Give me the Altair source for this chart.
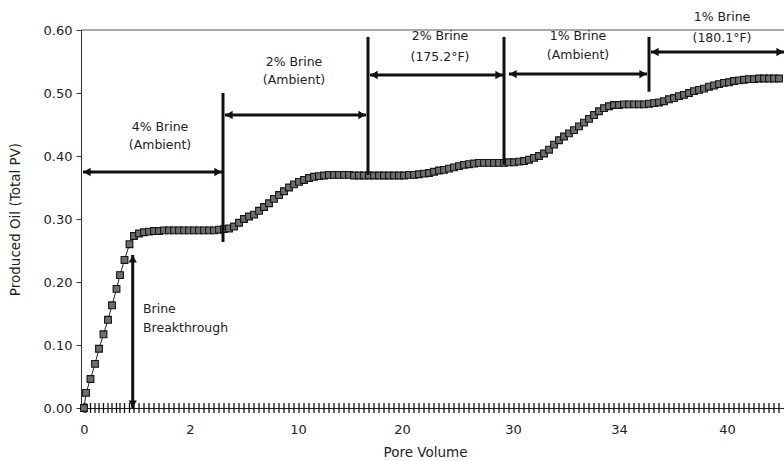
import altair as alt
import pandas as pd

# ---------------- data ----------------
pore_pos = [0, 0.4, 1.3, 2.2, 3.0, 3.9, 4.8, 5.6, 6.5, 7.2, 8.1, 9.1,
            10, 11, 12, 13, 14, 15, 16, 17, 18, 19, 20, 21, 22, 23, 24, 25, 26, 27, 28, 29,
            30, 31, 32, 33, 34, 35, 36, 37, 38, 39, 40, 41, 42, 43, 44, 45, 46, 47, 48, 49,
            50, 51, 52, 53, 54, 55, 56, 57, 58, 59, 60, 61, 62, 63, 64, 65, 66, 67, 68, 69,
            70, 71, 72, 73, 74, 75, 76, 77, 78, 79, 80, 81, 82, 83, 84, 85, 86, 87, 88, 89,
            90, 91, 92, 93, 94, 95, 96, 97, 98, 99, 100, 101, 102, 103, 104, 105, 106, 107, 108, 109,
            110, 111, 112, 113, 114, 115, 116, 117, 118, 119, 120, 121, 122, 123, 124, 125, 126, 127, 128, 129,
            130, 131, 132, 133, 134, 135, 136, 137, 138, 139]
produced_oil = [0.000, 0.024, 0.046, 0.070, 0.094, 0.117, 0.140, 0.163, 0.189, 0.211, 0.235, 0.260,
                0.273, 0.277, 0.279, 0.280, 0.281, 0.281, 0.282, 0.282, 0.282, 0.282, 0.282, 0.282, 0.282, 0.282, 0.282, 0.282, 0.282, 0.283, 0.284, 0.285,
                0.288, 0.294, 0.300, 0.304, 0.307, 0.313, 0.319, 0.325, 0.332, 0.338, 0.344, 0.350, 0.355, 0.359, 0.362, 0.365, 0.367, 0.368, 0.369, 0.370,
                0.370, 0.370, 0.370, 0.370, 0.369, 0.369, 0.369, 0.369, 0.369, 0.369, 0.369, 0.369, 0.369, 0.369, 0.369, 0.370, 0.370, 0.371, 0.372, 0.373,
                0.375, 0.377, 0.378, 0.380, 0.382, 0.384, 0.386, 0.387, 0.388, 0.389, 0.389, 0.389, 0.389, 0.389, 0.389, 0.390, 0.390, 0.391, 0.392, 0.394,
                0.397, 0.400, 0.404, 0.410, 0.418, 0.425, 0.431, 0.436, 0.441, 0.447, 0.453, 0.459, 0.465, 0.471, 0.476, 0.479, 0.481, 0.481, 0.482, 0.482,
                0.482, 0.482, 0.482, 0.483, 0.484, 0.485, 0.487, 0.490, 0.492, 0.495, 0.497, 0.500, 0.503, 0.505, 0.507, 0.510, 0.512, 0.514, 0.516, 0.517,
                0.519, 0.520, 0.521, 0.522, 0.522, 0.523, 0.523, 0.523, 0.523, 0.523]

x_tick_pos = [0, 21.2, 42.8, 63.6, 85.8, 107, 128.6]
x_tick_labels = ["0", "2", "10", "20", "30", "34", "40"]
y_ticks = [0.0, 0.1, 0.2, 0.3, 0.4, 0.5, 0.6]

# stage separators (vertical bars)
sep_x = [27.8, 56.8, 84.0, 113.0]
sep_y1 = [0.2635, 0.370, 0.386, 0.502]
sep_y2 = [0.500, 0.589, 0.589, 0.589]

# horizontal double arrows (stage spans)
span_x1 = [-0.2, 28.2, 57.2, 85.0, 113.4]
span_x2 = [27.6, 56.4, 83.8, 112.6, 140.0]
span_y = [0.3746, 0.465, 0.5286, 0.530, 0.565]

# breakthrough vertical double arrow
bt_x = [9.74]
bt_y1 = [0.0]
bt_y2 = [0.243]

# annotation texts
ann_text = ["4% Brine", "(Ambient)", "2% Brine", "(Ambient)", "2% Brine", "(175.2°F)",
            "1% Brine", "(Ambient)", "1% Brine", "(180.1°F)"]
ann_x = [15.2, 15.2, 42.0, 42.0, 71.2, 71.2, 98.8, 98.8, 127.6, 127.6]
ann_y = [0.446, 0.4175, 0.549, 0.521, 0.590, 0.557, 0.590, 0.560, 0.6206, 0.587]

bt_text = ["Brine", "Breakthrough"]
bt_text_x = [11.8, 11.8]
bt_text_y = [0.157, 0.127]

# ---------------- tables ----------------
main = pd.DataFrame({"pv": pore_pos, "oil": produced_oil})
base = pd.DataFrame({"pv": pore_pos, "zero": [0.0] * len(pore_pos)})
seps = pd.DataFrame({"x": sep_x, "y1": sep_y1, "y2": sep_y2})
spans = pd.DataFrame({"x1": span_x1, "x2": span_x2, "y": span_y})
bt = pd.DataFrame({"x": bt_x, "y1": bt_y1, "y2": bt_y2})
ann = pd.DataFrame({"x": ann_x, "y": ann_y, "t": ann_text})
btt = pd.DataFrame({"x": bt_text_x, "y": bt_text_y, "t": bt_text})
frame = pd.DataFrame({"x1": [-0.6], "x2": [140.0], "y": [0.6]})

FONT = "DejaVu Sans"
INK = "#111"

label_expr = " : ".join(
    f"datum.value == {v} ? '{l}'" for v, l in zip(x_tick_pos, x_tick_labels)
) + " : ''"

xs = alt.Scale(domain=[-0.6, 140.0], nice=False, zero=False)
ys = alt.Scale(domain=[0, 0.6], nice=False, zero=False)

x_axis = alt.Axis(values=x_tick_pos, labelExpr=label_expr, ticks=False, tickSize=0,
                  grid=False, labelPadding=15, labelFontSize=13, labelFont=FONT,
                  labelColor="#222", domainColor="#222", title="Pore Volume",
                  titleFont=FONT, titleFontSize=13.5, titleFontWeight="normal",
                  titleColor="#222", titleX=344, titleY=44, titleBaseline="middle",
                  titleAnchor="middle")
y_axis = alt.Axis(values=y_ticks, format=".2f", grid=False, tickSize=5, tickColor="#333",
                  domainColor="#333", labelPadding=4, labelFontSize=13, labelFont=FONT,
                  labelColor="#222", title="Produced Oil (Total PV)", titleFont=FONT,
                  titleFontSize=13.5, titleFontWeight="normal", titleColor="#222",
                  titleX=-66, titleY=189, titleBaseline="middle", titleAnchor="middle")

X = lambda f: alt.X(f, type="quantitative", scale=xs, axis=x_axis)
Y = lambda f: alt.Y(f, type="quantitative", scale=ys, axis=y_axis)

top_rule = alt.Chart(frame).mark_rule(color="#555", strokeWidth=1).encode(
    x=X("x1"), x2="x2", y=Y("y"))

base_ticks = alt.Chart(base).mark_tick(color="#111", size=10, thickness=1.3, opacity=1,
                                       orient="vertical").encode(x=X("pv"), y=Y("zero"))

line = alt.Chart(main).mark_line(color="#222", strokeWidth=1).encode(x=X("pv"), y=Y("oil"))
pts = alt.Chart(main).mark_point(shape="square", filled=True, fill="#6e6e6e", stroke="#151515",
                                 strokeWidth=1.1, size=46, opacity=1).encode(x=X("pv"), y=Y("oil"))

sep_rules = alt.Chart(seps).mark_rule(color=INK, strokeWidth=3).encode(
    x=X("x"), y=Y("y1"), y2="y2")

span_rules = alt.Chart(spans).mark_rule(color=INK, strokeWidth=3).encode(
    x=X("x1"), x2="x2", y=Y("y"))
span_left = alt.Chart(spans).mark_point(shape="triangle-left", filled=True, color=INK, size=70,
                                        opacity=1, xOffset=4).encode(x=X("x1"), y=Y("y"))
span_right = alt.Chart(spans).mark_point(shape="triangle-right", filled=True, color=INK, size=70,
                                         opacity=1, xOffset=-4).encode(x=X("x2"), y=Y("y"))

bt_rule = alt.Chart(bt).mark_rule(color=INK, strokeWidth=3).encode(x=X("x"), y=Y("y1"), y2="y2")
bt_up = alt.Chart(bt).mark_point(shape="triangle-up", filled=True, color=INK, size=70,
                                 opacity=1, yOffset=4).encode(x=X("x"), y=Y("y2"))
bt_down = alt.Chart(bt).mark_point(shape="triangle-down", filled=True, color=INK, size=70,
                                   opacity=1, yOffset=-4).encode(x=X("x"), y=Y("y1"))

ann_txt = alt.Chart(ann).mark_text(font=FONT, fontSize=12.5, color="#222", align="center",
                                   baseline="middle").encode(x=X("x"), y=Y("y"), text="t")
bt_txt = alt.Chart(btt).mark_text(font=FONT, fontSize=12.5, color="#222", align="left",
                                  baseline="middle").encode(x=X("x"), y=Y("y"), text="t")

chart = alt.layer(
    top_rule, base_ticks, line, pts, sep_rules, span_rules, span_left, span_right,
    bt_rule, bt_up, bt_down, ann_txt, bt_txt
).properties(
    width=703, height=378,
    autosize=alt.AutoSizeParams(type="none"),
    padding={"left": 81, "top": 30, "right": 0, "bottom": 53},
    background="white",
).configure_view(stroke=None)

chart.save("out.html", embed_options={"renderer": "svg", "actions": False})
